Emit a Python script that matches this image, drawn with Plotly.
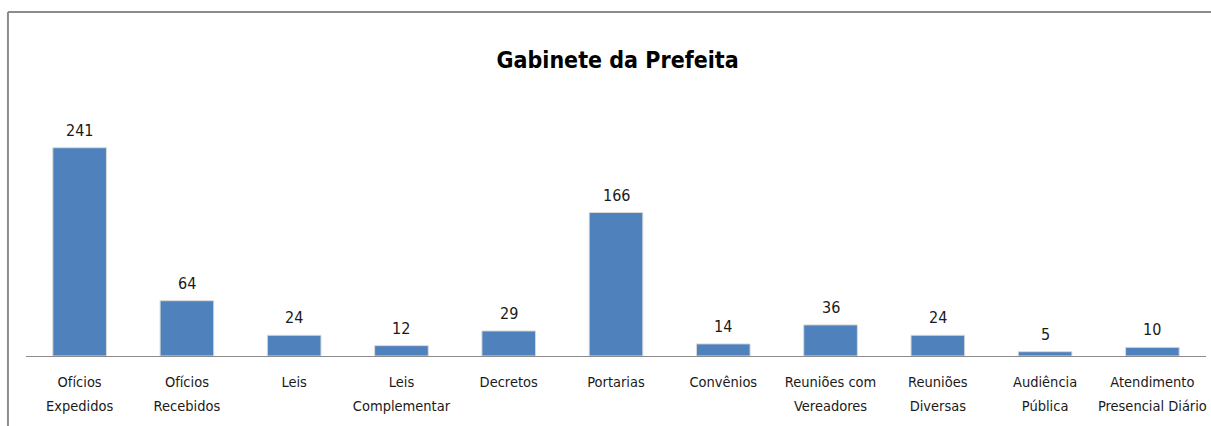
import plotly.graph_objects as go

# categorias e valores
categorias = [
    ["Ofícios", "Expedidos"],
    ["Ofícios", "Recebidos"],
    ["Leis"],
    ["Leis", "Complementar"],
    ["Decretos"],
    ["Portarias"],
    ["Convênios"],
    ["Reuniões com", "Vereadores"],
    ["Reuniões", "Diversas"],
    ["Audiência", "Pública"],
    ["Atendimento", "Presencial Diário"],
]
valores = [241, 64, 24, 12, 29, 166, 14, 36, 24, 5, 10]

fonte = "Liberation Sans Narrow, DejaVu Sans Condensed, Arial Narrow, sans-serif"

nomes = [" ".join(c) for c in categorias]
rotulos = ["<br>".join(f"<span style='font-size:14.5px'>{p}</span>" for p in c)
           for c in categorias]

fig = go.Figure()
fig.add_trace(go.Bar(
    x=nomes,
    y=valores,
    marker=dict(color="#4F81BD", line=dict(color="#D9D9D9", width=1)),
    cliponaxis=False,
    hoverinfo="x+y",
))

# rótulos de dados acima das barras
for n, v in zip(nomes, valores):
    fig.add_annotation(x=n, y=v, text=str(v), showarrow=False,
                       yanchor="bottom", yshift=6,
                       font=dict(size=16, color="#1a1a1a", family=fonte))

fig.update_layout(
    width=1211, height=426,
    margin=dict(l=26, r=5, t=114, b=70),
    paper_bgcolor="white",
    plot_bgcolor="white",
    bargap=0.5,
    showlegend=False,
    title=dict(
        text="<b>Gabinete da Prefeita</b>",
        x=0.51, xanchor="center",
        y=0.86, yanchor="middle",
        font=dict(size=23, color="black", family=fonte),
    ),
    font=dict(family=fonte, size=15, color="#1a1a1a"),
)

fig.update_xaxes(
    showline=True, linecolor="#8c8c8c", linewidth=1,
    ticks="", tickmode="array", tickvals=nomes, ticktext=rotulos,
    tickfont=dict(size=18.5, color="#1a1a1a", family=fonte),
    ticklabelstandoff=8,
    showgrid=False,
)
fig.update_yaxes(visible=False, range=[0, 280], showgrid=False)

# moldura do gráfico (só bordas esquerda e superior visíveis)
fig.add_shape(type="line", xref="paper", yref="paper",
              x0=-0.0153, x1=1.01, y0=1.421, y1=1.421,
              line=dict(color="#8c8c8c", width=2))
fig.add_shape(type="line", xref="paper", yref="paper",
              x0=-0.0153, x1=-0.0153, y0=1.421, y1=-0.4,
              line=dict(color="#8c8c8c", width=2))

fig.write_html("out.html", config={"displayModeBar": False},
               post_script="document.body.style.margin='0';")
